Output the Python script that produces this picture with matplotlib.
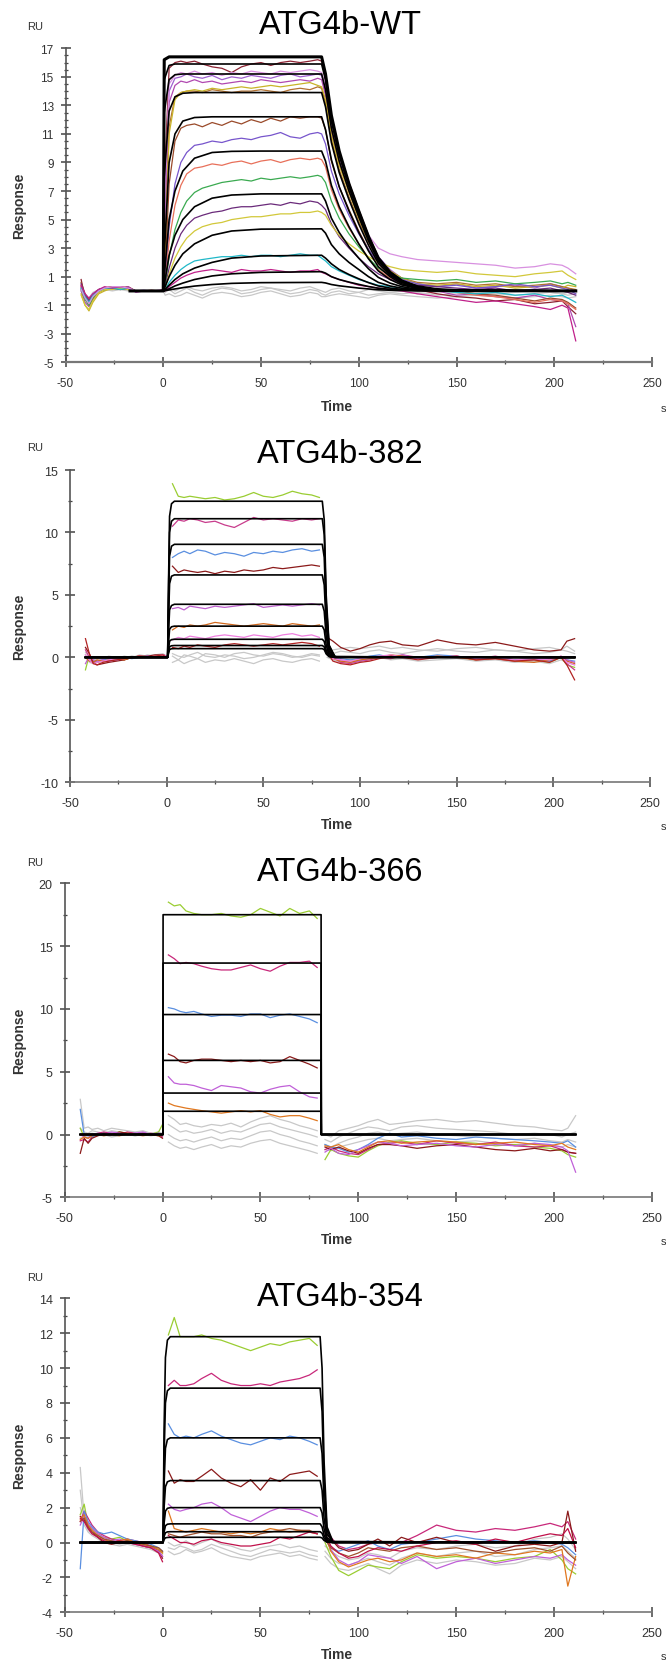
import numpy as np
import matplotlib.pyplot as plt
from matplotlib.ticker import MultipleLocator, FixedLocator

plt.rcParams['font.family'] = ['Liberation Sans', 'DejaVu Sans']
plt.rcParams['axes.unicode_minus'] = False

nan = np.nan

# common time grid (s) for the measured traces
T = [-42, -40, -38, -36, -33, -30, -26, -22, -18, -14, -10, -6, -2, 0,
     1, 3, 6, 9, 12, 16, 20, 25, 30, 35, 40, 45, 50, 55, 60, 65, 70, 75, 79, 81,
     83, 86, 90, 95, 100, 105, 110, 116, 122, 130, 140, 150, 160, 170, 180, 190, 198, 204, 207, 211]

# ---------------- ATG4b-WT ----------------
wt_fit_t = [-17, 0, 0.5, 3, 6, 10, 16, 25, 35, 50, 81, 83, 86, 90, 95, 100, 105, 110, 116, 122, 130, 140, 150, 211]
wt_fits = [
    [0, 0, 16.2, 16.4, 16.4, 16.4, 16.4, 16.4, 16.4, 16.4, 16.4, 15.2, 12.3, 9.8, 7.5, 5.6, 3.8, 2.3, 1.3, 0.7, 0.3, 0.1, 0.03, 0],
    [0, 0, 14.8, 15.8, 15.9, 15.9, 15.9, 15.9, 15.9, 15.9, 15.9, 14.8, 11.9, 9.5, 7.3, 5.4, 3.7, 2.2, 1.27, 0.68, 0.29, 0.1, 0.03, 0],
    [0, 0, 12.5, 14.8, 15.15, 15.2, 15.2, 15.2, 15.2, 15.2, 15.2, 14.1, 11.4, 9.1, 7.0, 5.2, 3.5, 2.1, 1.2, 0.65, 0.27, 0.09, 0.03, 0],
    [0, 0, 8.0, 12.6, 13.6, 13.85, 13.9, 13.9, 13.9, 13.9, 13.9, 12.9, 10.4, 8.3, 6.4, 4.7, 3.2, 1.95, 1.1, 0.6, 0.25, 0.08, 0.03, 0],
    [0, 0, 2.5, 9.0, 11.0, 11.9, 12.15, 12.2, 12.2, 12.2, 12.2, 11.3, 9.2, 7.3, 5.6, 4.1, 2.8, 1.7, 1.0, 0.5, 0.22, 0.07, 0.02, 0],
    [0, 0, 1.0, 5.0, 7.0, 8.4, 9.3, 9.7, 9.78, 9.8, 9.8, 9.1, 7.4, 5.9, 4.5, 3.3, 2.25, 1.4, 0.8, 0.42, 0.18, 0.06, 0.02, 0],
    [0, 0, 0.4, 2.5, 3.9, 5.0, 5.9, 6.5, 6.72, 6.8, 6.8, 6.3, 5.1, 4.1, 3.1, 2.3, 1.55, 0.95, 0.55, 0.3, 0.12, 0.04, 0.01, 0],
    [0, 0, 0.15, 1.0, 1.8, 2.6, 3.3, 3.9, 4.2, 4.33, 4.35, 4.05, 3.25, 2.6, 2.0, 1.5, 1.0, 0.6, 0.35, 0.19, 0.08, 0.03, 0.01, 0],
    [0, 0, 0.05, 0.4, 0.8, 1.2, 1.6, 2.0, 2.3, 2.45, 2.5, 2.3, 1.9, 1.5, 1.15, 0.85, 0.58, 0.35, 0.2, 0.11, 0.05, 0.02, 0, 0],
    [0, 0, 0.02, 0.15, 0.35, 0.55, 0.8, 1.05, 1.2, 1.3, 1.35, 1.25, 1.0, 0.8, 0.62, 0.46, 0.31, 0.19, 0.11, 0.06, 0.02, 0.01, 0, 0],
    [0, 0, 0.01, 0.07, 0.14, 0.23, 0.34, 0.45, 0.53, 0.58, 0.6, 0.56, 0.45, 0.36, 0.28, 0.2, 0.14, 0.08, 0.05, 0.03, 0.01, 0, 0, 0],
]
wt_colors = ['#8b2232', '#a060d0', '#b048b0', '#b07030', '#c8b428', '#9a4a2a', '#7755cc',
             '#e8705a', '#3aaa50', '#6a2a7a', '#d2c83a', '#20b8c8', '#c0208a', '#d890e0']
wt_traces = [
    [0.8, -0.5, -0.9, -0.5, 0.0, 0.2, 0.3, 0.2, 0.3, 0.0, 0.0, 0.05, 0.0, 0.1,
     9.0, 15.6, 16.0, 16.1, 16.0, 16.1, 15.9, 15.7, 15.6, 15.3, 15.7, 15.9, 16.0, 15.8, 16.0, 16.1, 16.0, 16.1, 16.2, 16.1,
     14.8, 12.0, 9.7, 7.6, 5.7, 3.9, 2.4, 1.3, 0.6, 0.1, -0.2, -0.4, -0.5, -0.7, -0.6, -0.9, -0.8, -0.7, -1.1, -1.6],
    [0.3, -0.3, -0.7, -0.2, 0.1, 0.2, 0.1, 0.3, 0.2, 0.0, 0.05, 0.0, 0.0, 0.0,
     6.0, 14.0, 14.9, 15.0, 15.2, 15.0, 14.9, 15.1, 14.8, 15.0, 14.9, 15.1, 15.0, 14.9, 15.1, 15.2, 15.0, 15.1, 15.2, 15.1,
     14.0, 11.4, 9.2, 7.2, 5.4, 3.7, 2.4, 1.5, 0.9, 0.5, 0.3, 0.5, 0.2, 0.3, 0.4, 0.2, 0.5, 0.3, 0.2, 0.0],
    [0.0, -0.8, -1.1, -0.6, -0.1, 0.1, 0.2, 0.1, 0.3, -0.1, 0.0, 0.0, 0.05, 0.1,
     5.0, 13.2, 14.4, 14.7, 14.6, 14.8, 14.6, 14.7, 14.5, 14.6, 14.7, 14.6, 14.8, 14.7, 14.6, 14.7, 14.8, 14.7, 14.9, 14.8,
     13.7, 11.0, 8.9, 7.0, 5.2, 3.6, 2.3, 1.4, 0.8, 0.3, 0.0, -0.3, -0.2, -0.4, -0.5, -0.3, -0.6, -0.7, -0.9, -2.5],
    [0.4, -0.4, -1.0, -0.6, -0.1, 0.1, 0.2, 0.2, 0.1, 0.0, 0.0, 0.0, 0.0, 0.0,
     3.0, 11.5, 13.6, 13.9, 14.0, 14.0, 13.9, 14.1, 14.0, 13.9, 14.0, 14.0, 14.1, 14.0, 13.9, 14.1, 14.2, 14.1, 14.3, 14.2,
     13.2, 10.6, 8.5, 6.6, 4.9, 3.4, 2.2, 1.4, 0.9, 0.6, 0.5, 0.6, 0.4, 0.5, 0.3, 0.4, 0.5, 0.3, 0.2, 0.1],
    [-0.2, -1.0, -1.4, -0.8, -0.2, 0.0, 0.2, 0.1, 0.2, 0.0, 0.0, 0.0, 0.0, 0.0,
     2.5, 11.0, 13.4, 13.9, 14.0, 14.1, 14.0, 14.2, 14.1, 14.2, 14.3, 14.2, 14.3, 14.4, 14.3, 14.4, 14.5, 14.6, 14.4, 14.3,
     13.4, 10.9, 8.8, 6.9, 5.1, 3.5, 2.3, 1.4, 0.9, 0.5, 0.4, 0.5, 0.3, 0.4, 0.2, 0.3, 0.4, 0.2, 0.4, 0.3],
    [0.6, -0.2, -0.6, -0.3, 0.1, 0.2, 0.3, 0.2, 0.1, 0.0, 0.0, 0.0, 0.0, 0.0,
     1.5, 7.5, 10.5, 11.4, 11.6, 11.7, 11.5, 11.8, 11.6, 11.9, 11.7, 12.0, 11.8, 12.1, 11.9, 12.2, 12.1, 12.2, 12.2, 12.1,
     11.3, 9.1, 7.3, 5.7, 4.2, 2.9, 1.9, 1.1, 0.6, 0.3, 0.1, 0.0, -0.2, -0.3, -0.5, -0.7, -0.5, -0.6, -0.8, -1.2],
    [0.2, -0.5, -0.8, -0.4, 0.0, 0.1, 0.2, 0.2, 0.2, 0.0, 0.0, 0.0, 0.0, 0.0,
     0.8, 4.5, 7.5, 9.0, 9.7, 10.2, 10.3, 10.5, 10.4, 10.6, 10.7, 10.6, 10.8, 10.9, 11.1, 10.8, 10.7, 11.0, 11.1, 11.0,
     10.3, 8.4, 6.8, 5.3, 4.0, 2.9, 2.0, 1.3, 0.8, 0.5, 0.3, 0.4, 0.2, 0.3, 0.5, 0.3, 0.4, 0.2, 0.1, -0.2],
    [0.3, -0.4, -0.9, -0.4, 0.0, 0.2, 0.2, 0.3, 0.2, 0.0, 0.0, 0.0, 0.0, 0.0,
     0.6, 3.5, 6.0, 7.4, 8.2, 8.6, 8.7, 8.9, 8.8, 9.0, 9.1, 8.9, 9.1, 9.2, 9.0, 9.2, 9.3, 9.2, 9.3, 9.2,
     8.7, 7.1, 5.7, 4.4, 3.3, 2.3, 1.5, 0.9, 0.5, 0.2, 0.0, -0.1, -0.3, -0.4, -0.6, -0.8, -0.6, -0.7, -0.9, -1.3],
    [0.1, -0.6, -1.0, -0.5, 0.0, 0.1, 0.2, 0.2, 0.1, 0.0, 0.0, 0.0, 0.0, 0.0,
     0.4, 2.4, 4.3, 5.5, 6.3, 6.9, 7.2, 7.4, 7.6, 7.7, 7.8, 7.7, 7.9, 7.8, 7.9, 8.0, 7.9, 8.0, 8.1, 8.0,
     7.6, 6.3, 5.1, 4.0, 3.1, 2.3, 1.6, 1.1, 0.9, 0.8, 0.7, 0.8, 0.6, 0.7, 0.5, 0.6, 0.7, 0.5, 0.6, 0.4],
    [0.5, -0.3, -0.7, -0.3, 0.1, 0.2, 0.2, 0.1, 0.2, 0.0, 0.0, 0.0, 0.0, 0.0,
     0.3, 1.6, 3.0, 4.0, 4.6, 5.1, 5.3, 5.5, 5.6, 5.8, 5.9, 5.9, 6.0, 6.1, 6.0, 6.2, 6.1, 6.3, 6.2, 6.0,
     5.7, 4.7, 3.8, 3.0, 2.3, 1.7, 1.2, 0.8, 0.6, 0.4, 0.3, 0.2, 0.1, 0.2, 0.0, 0.1, 0.2, 0.0, -0.1, -0.3],
    [-0.3, -1.0, -1.3, -0.7, -0.1, 0.1, 0.1, 0.2, 0.1, 0.0, 0.0, 0.0, 0.0, 0.0,
     0.2, 1.2, 2.3, 3.1, 3.7, 4.2, 4.5, 4.7, 4.8, 5.0, 5.1, 5.2, 5.2, 5.3, 5.4, 5.4, 5.5, 5.5, 5.6, 5.5,
     5.3, 4.6, 3.9, 3.3, 2.8, 2.4, 2.0, 1.7, 1.5, 1.4, 1.3, 1.4, 1.2, 1.1, 1.0, 1.2, 1.3, 1.4, 1.1, 0.8],
    [0.2, -0.4, -0.8, -0.3, 0.0, 0.2, 0.2, 0.1, 0.2, 0.0, 0.0, 0.0, 0.0, 0.0,
     0.1, 0.6, 1.1, 1.5, 1.8, 2.1, 2.2, 2.3, 2.4, 2.4, 2.5, 2.4, 2.5, 2.5, 2.4, 2.5, 2.6, 2.5, 2.5, 2.3,
     2.1, 1.7, 1.4, 1.1, 0.8, 0.6, 0.4, 0.3, 0.2, 0.1, 0.0, -0.1, -0.2, -0.1, -0.3, -0.2, -0.4, -0.3, -0.5, -0.8],
    [0.4, -0.2, -0.5, -0.2, 0.1, 0.3, 0.2, 0.3, 0.2, 0.0, 0.0, 0.0, 0.0, 0.1,
     0.0, 0.3, 0.6, 0.9, 1.1, 1.3, 1.4, 1.5, 1.4, 1.3, 1.5, 1.4, 1.4, 1.5, 1.4, 1.3, 1.4, 1.4, 1.5, 1.3,
     1.2, 1.0, 0.8, 0.6, 0.4, 0.3, 0.2, 0.1, 0.0, -0.2, -0.4, -0.6, -0.8, -0.7, -0.9, -1.1, -1.3, -1.0, -1.2, -3.5],
    [0.1, -0.5, -0.9, -0.4, 0.0, 0.2, 0.3, 0.3, 0.2, 0.0, 0.0, 0.0, 0.0, 0.0,
     7.0, 14.5, 15.1, 15.3, 15.2, 15.4, 15.2, 15.3, 15.1, 15.3, 15.2, 15.4, 15.3, 15.2, 15.4, 15.3, 15.4, 15.5, 15.4, 15.3,
     14.4, 11.6, 9.3, 7.2, 5.4, 3.9, 3.0, 2.6, 2.4, 2.2, 2.1, 2.0, 1.9, 1.8, 1.6, 1.7, 1.9, 1.8, 1.6, 1.2],
]
wt_gray = [
    [0.1, -0.4, -0.6, -0.2, 0.0, 0.1, 0.1, 0.1, 0.1, 0.0, 0.0, 0.0, 0.0, 0.0,
     -0.1, 0.1, -0.2, 0.0, 0.2, -0.1, -0.3, 0.0, 0.2, 0.1, -0.2, -0.1, 0.1, 0.2, 0.0, -0.2, -0.1, 0.1, 0.0, -0.2,
     -0.3, -0.1, 0.0, -0.2, -0.1, -0.3, -0.2, -0.1, -0.2, -0.1, -0.3, -0.2, -0.1, -0.2, -0.3, -0.2, -0.1, -0.2, -0.3, -0.2],
    [0.0, -0.5, -0.8, -0.3, 0.0, 0.1, 0.0, 0.1, 0.0, 0.0, 0.0, 0.0, 0.0, 0.0,
     -0.3, -0.2, -0.4, -0.3, -0.1, -0.3, -0.5, -0.2, -0.1, -0.2, -0.4, -0.3, -0.1, 0.0, -0.2, -0.4, -0.3, -0.1, -0.2, -0.4,
     -0.4, -0.3, -0.2, -0.3, -0.4, -0.5, -0.3, -0.2, -0.3, -0.4, -0.5, -0.4, -0.3, -0.4, -0.5, -0.4, -0.3, -0.4, -0.5, -0.4],
    [0.2, -0.3, -0.5, -0.1, 0.1, 0.2, 0.1, 0.2, 0.1, 0.0, 0.0, 0.0, 0.0, 0.0,
     0.1, 0.3, 0.0, 0.2, 0.3, 0.1, 0.0, 0.2, 0.3, 0.2, 0.0, 0.1, 0.3, 0.2, 0.1, 0.0, 0.2, 0.3, 0.1, 0.0,
     -0.1, 0.1, 0.2, 0.0, -0.1, 0.1, 0.0, -0.1, 0.0, -0.2, -0.1, 0.0, -0.1, -0.2, -0.1, 0.0, -0.1, -0.2, -0.1, 0.0],
]

# ---------------- ATG4b-382 ----------------
p382_fit_t = [-42, 0.5, 1.0, 1.5, 2.5, 4, 80.5, 81.5, 82.5, 84, 87, 211]
p382_fits = [
    [0, 0, 6.3, 11.3, 12.3, 12.5, 12.5, 11.0, 5.0, 1.0, 0.06, 0],
    [0, 0, 5.6, 10.0, 10.9, 11.1, 11.1, 9.8, 4.4, 0.9, 0.05, 0],
    [0, 0, 4.5, 8.1, 8.9, 9.05, 9.05, 8.0, 3.6, 0.7, 0.05, 0],
    [0, 0, 3.3, 5.9, 6.5, 6.6, 6.6, 5.8, 2.6, 0.5, 0.03, 0],
    [0, 0, 2.1, 3.8, 4.15, 4.25, 4.25, 3.7, 1.7, 0.34, 0.02, 0],
    [0, 0, 1.25, 2.25, 2.45, 2.5, 2.5, 2.2, 1.0, 0.2, 0.01, 0],
    [0, 0, 0.7, 1.3, 1.42, 1.45, 1.45, 1.28, 0.58, 0.12, 0.01, 0],
    [0, 0, 0.48, 0.85, 0.93, 0.95, 0.95, 0.84, 0.38, 0.08, 0, 0],
    [0, 0, 0.35, 0.63, 0.69, 0.7, 0.7, 0.62, 0.28, 0.06, 0, 0],
]
p382_colors = ['#9acd32', '#c83c8c', '#5a8fe0', '#8b1a1a', '#c060d0', '#d2691e', '#f080e0', '#b22222']
p382_traces = [
    [-1.0, 0.2, -0.3, -0.4, -0.3, -0.2, -0.1, -0.2, 0.0, 0.1, 0.0, 0.1, 0.2, 0.1,
     nan, 13.9, 12.9, 12.8, 12.9, 12.8, 12.7, 12.8, 12.6, 12.7, 12.9, 13.2, 12.9, 12.8, 13.0, 13.3, 13.1, 13.0, 12.8, nan,
     1.2, 0.3, -0.3, -0.2, -0.3, -0.1, 0.0, -0.1, 0.1, -0.1, 0.0, 0.1, -0.2, 0.0, -0.3, -0.2, -0.4, 0.0, -0.6, -0.8],
    [0.6, 0.0, -0.3, -0.4, -0.2, -0.3, -0.1, -0.2, 0.0, 0.1, 0.0, 0.1, 0.2, 0.1,
     nan, 10.5, 11.0, 10.9, 11.1, 11.0, 10.8, 10.9, 10.6, 10.4, 10.8, 11.2, 11.0, 11.1, 11.0, 10.9, 11.1, 11.0, 11.1, nan,
     1.5, 0.0, -0.4, -0.5, -0.3, -0.2, 0.0, -0.1, 0.2, 0.0, 0.1, 0.0, -0.1, 0.1, -0.2, -0.1, -0.3, 0.1, -0.5, -1.0],
    [0.0, -0.2, -0.4, -0.3, -0.2, -0.1, -0.2, 0.0, -0.1, 0.0, 0.1, 0.0, 0.1, 0.1,
     nan, 8.0, 8.3, 8.5, 8.3, 8.6, 8.5, 8.2, 8.4, 8.3, 8.1, 8.4, 8.3, 8.5, 8.4, 8.6, 8.7, 8.5, 8.6, nan,
     1.0, 0.2, -0.1, -0.2, -0.1, 0.1, 0.2, 0.0, 0.1, 0.0, 0.2, 0.1, -0.1, 0.0, -0.2, -0.1, -0.3, 0.0, -0.2, -0.3],
    [0.8, 0.3, -0.4, -0.6, -0.5, -0.4, -0.3, -0.2, 0.0, 0.1, 0.1, 0.2, 0.2, 0.1,
     nan, 7.3, 6.8, 7.0, 6.9, 6.8, 6.9, 6.7, 6.9, 6.8, 7.0, 6.9, 7.0, 7.2, 7.1, 7.2, 7.3, 7.4, 7.3, nan,
     1.6, 1.3, 0.8, 0.5, 0.7, 1.0, 1.2, 1.3, 1.0, 0.9, 1.4, 1.1, 1.0, 1.2, 0.9, 0.6, 0.5, 0.6, 1.3, 1.5],
    [-0.5, 0.1, -0.2, -0.3, -0.2, -0.3, -0.2, -0.1, 0.0, 0.0, 0.1, 0.0, 0.1, 0.1,
     nan, 3.9, 4.0, 3.8, 4.1, 4.0, 3.9, 4.1, 4.0, 4.1, 4.2, 4.3, 4.0, 4.1, 4.2, 4.1, 4.2, 4.3, 4.2, nan,
     0.8, 0.0, -0.2, -0.4, -0.3, -0.1, 0.0, 0.1, 0.2, -0.1, 0.0, 0.1, -0.2, -0.1, -0.3, -0.2, -0.1, 0.0, -0.2, -0.4],
    [0.0, -0.3, -0.4, -0.2, -0.3, -0.2, -0.1, -0.2, 0.0, 0.1, 0.0, 0.1, 0.1, 0.0,
     nan, 2.2, 2.5, 2.4, 2.6, 2.5, 2.6, 2.8, 2.7, 2.6, 2.5, 2.6, 2.7, 2.6, 2.5, 2.7, 2.6, 2.5, 2.6, nan,
     0.6, -0.1, -0.3, -0.4, -0.2, -0.1, 0.0, 0.2, 0.1, -0.1, 0.1, 0.0, -0.2, -0.1, -0.3, -0.4, -0.2, 0.0, -0.3, -0.5],
    [0.2, -0.2, -0.5, -0.4, -0.3, -0.2, -0.1, -0.1, 0.0, 0.1, 0.0, 0.1, 0.2, 0.1,
     nan, 1.4, 1.6, 1.5, 1.7, 1.6, 1.5, 1.7, 1.8, 1.7, 1.6, 1.8, 1.7, 1.6, 1.8, 1.9, 1.7, 1.8, 1.6, nan,
     0.4, -0.1, -0.2, -0.3, -0.1, 0.0, 0.1, 0.2, 0.0, -0.1, 0.0, 0.1, -0.1, 0.0, -0.2, -0.1, -0.2, 0.1, -0.4, -0.6],
    [1.5, 0.3, -0.5, -0.6, -0.4, -0.3, -0.2, -0.1, 0.0, 0.1, 0.0, 0.1, 0.2, 0.0,
     nan, 0.8, 0.7, 0.9, 0.8, 1.0, 0.9, 0.8, 1.0, 1.1, 1.0, 0.9, 1.0, 1.1, 1.0, 1.1, 1.2, 1.1, 0.9, nan,
     0.4, -0.3, -0.5, -0.6, -0.4, -0.3, -0.1, 0.1, 0.0, -0.2, 0.0, 0.1, -0.2, -0.1, -0.3, -0.2, -0.4, 0.0, -0.6, -1.8],
]
p382_gray = [
    [0.0, -0.2, -0.3, -0.1, -0.2, 0.0, -0.1, 0.1, 0.0, 0.2, 0.1, 0.2, 0.3, 0.1,
     nan, 0.1, -0.2, 0.2, 0.1, -0.1, 0.3, 0.2, 0.0, 0.3, 0.4, 0.2, 0.1, 0.3, 0.2, 0.0, 0.1, 0.3, 0.2, nan,
     0.3, 0.6, 0.7, 0.8, 0.7, 0.8, 0.9, 0.7, 0.8, 0.6, 0.5, 0.7, 0.8, 0.6, 0.5, 0.7, 0.8, 0.6, 0.9, 0.5],
    [0.2, -0.4, -0.5, -0.3, -0.2, -0.1, 0.0, -0.1, 0.1, 0.0, 0.1, 0.0, 0.1, 0.0,
     nan, -0.4, -0.2, -0.5, -0.3, -0.1, -0.4, -0.2, -0.3, -0.1, -0.3, -0.5, -0.2, -0.1, -0.3, -0.4, -0.2, -0.1, -0.3, nan,
     0.0, -0.2, -0.4, -0.3, -0.2, -0.1, 0.0, -0.2, -0.1, -0.3, -0.2, -0.1, -0.3, -0.2, -0.4, -0.3, -0.5, -0.2, -0.4, -0.6],
    [0.4, 0.0, -0.2, 0.0, -0.1, 0.1, 0.0, 0.0, 0.1, 0.0, 0.2, 0.1, 0.2, 0.0,
     nan, 0.3, 0.1, 0.0, 0.2, 0.4, 0.1, 0.0, 0.2, 0.1, -0.1, 0.0, 0.2, 0.4, 0.3, 0.1, 0.0, 0.2, 0.1, nan,
     0.2, 0.3, 0.5, 0.4, 0.3, 0.5, 0.6, 0.4, 0.3, 0.5, 0.7, 0.5, 0.4, 0.6, 0.5, 0.3, 0.4, 0.6, 0.5, 0.3],
]

# ---------------- ATG4b-366 ----------------
p366_fit_t = [-42, 0.2, 0.3, 81, 81.1, 211]
p366_fits = [
    [0, 0, 17.5, 17.5, 0, 0],
    [0, 0, 13.65, 13.65, 0, 0],
    [0, 0, 9.55, 9.55, 0, 0],
    [0, 0, 5.9, 5.9, 0, 0],
    [0, 0, 3.3, 3.3, 0, 0],
    [0, 0, 1.85, 1.85, 0, 0],
]
p366_colors = ['#9acd32', '#c8287a', '#5a8fe0', '#8b1a1a', '#c060d8', '#e07820']
p366_traces = [
    [0.5, -0.2, -0.3, -0.1, 0.0, 0.1, 0.0, 0.2, 0.1, 0.0, 0.1, 0.0, 0.2, 0.8,
     nan, 18.5, 18.2, 18.3, 17.8, 17.6, 17.5, 17.5, 17.6, 17.4, 17.3, 17.5, 18.0, 17.7, 17.4, 18.0, 17.6, 17.8, 17.2, nan,
     -2.0, -1.2, -1.5, -1.7, -1.8, -1.3, -0.9, -0.6, -0.5, -0.7, -0.8, -0.6, -0.7, -0.9, -0.8, -1.0, -1.1, -1.3, -1.6, -1.8],
    [-0.5, -0.4, -0.6, -0.2, 0.1, 0.2, 0.1, 0.0, 0.2, 0.1, 0.0, 0.1, 0.0, -0.2,
     nan, 14.3, 14.0, 13.6, 13.7, 13.6, 13.4, 13.2, 13.1, 13.1, 13.3, 13.5, 13.2, 13.0, 13.4, 13.7, 13.7, 13.8, 13.3, nan,
     -1.2, -1.0, -1.3, -1.5, -1.6, -1.2, -0.8, -0.7, -0.6, -0.8, -0.5, -0.7, -0.8, -0.6, -0.9, -1.0, -0.9, -1.2, -1.4, -1.5],
    [2.0, 0.0, -0.1, -0.2, 0.0, 0.1, 0.0, 0.1, 0.0, 0.1, 0.0, 0.0, 0.1, 0.0,
     nan, 10.1, 10.0, 9.8, 9.7, 9.8, 9.6, 9.4, 9.5, 9.5, 9.4, 9.6, 9.6, 9.3, 9.5, 9.6, 9.4, 9.2, 8.9, nan,
     -0.8, -1.0, -1.1, -1.4, -1.2, -0.8, -0.3, 0.1, -0.2, -0.1, -0.3, -0.4, -0.2, -0.3, -0.4, -0.5, -0.6, -0.7, -0.5, -1.0],
    [-1.5, -0.3, -0.7, -0.3, -0.1, 0.1, 0.0, 0.2, 0.1, 0.0, 0.1, 0.0, -0.1, -0.3,
     nan, 6.4, 6.2, 5.8, 5.7, 5.9, 6.0, 6.0, 5.9, 5.8, 5.9, 5.8, 5.9, 5.7, 5.8, 6.2, 5.9, 5.6, 5.3, nan,
     -1.0, -1.2, -1.0, -1.3, -1.5, -1.1, -0.8, -0.8, -0.9, -1.1, -0.9, -0.8, -1.0, -1.2, -1.3, -1.1, -1.3, -1.2, -1.4, -1.5],
    [0.0, -0.2, -0.3, 0.0, 0.1, 0.0, 0.2, 0.1, 0.0, 0.1, 0.2, 0.0, 0.1, 0.0,
     nan, 4.6, 4.1, 4.0, 4.0, 3.9, 3.7, 3.5, 3.9, 3.8, 3.7, 3.4, 3.3, 3.6, 3.8, 3.9, 3.4, 3.0, 2.9, nan,
     -1.4, -1.1, -1.5, -1.6, -1.2, -0.9, -0.6, -0.7, -0.9, -0.8, -0.7, -0.9, -1.0, -0.8, -0.9, -0.7, -0.8, -1.0, -1.3, -3.0],
    [-0.4, -0.2, -0.3, -0.1, 0.0, -0.1, 0.0, -0.1, 0.1, 0.0, -0.1, 0.0, -0.1, 0.0,
     nan, 2.5, 2.3, 2.2, 2.1, 2.0, 1.9, 1.8, 1.7, 1.8, 1.9, 1.8, 1.9, 1.6, 1.4, 1.5, 1.5, 1.3, 1.1, nan,
     -0.9, -1.0, -0.8, -1.2, -1.4, -1.0, -0.6, -0.5, -0.7, -0.6, -0.5, -0.6, -0.8, -0.7, -0.6, -0.8, -0.9, -0.7, -1.0, -1.2],
]
p366_gray = [
    [2.8, 0.5, 0.6, 0.4, 0.5, 0.3, 0.5, 0.4, 0.3, 0.2, 0.3, 0.1, 0.2, 0.1,
     nan, 1.5, 1.2, 0.8, 0.9, 0.7, 0.6, 0.8, 0.7, 0.9, 0.6, 1.0, 1.3, 1.5, 1.2, 1.0, 0.7, 0.5, 0.3, nan,
     0.0, -0.2, 0.3, 0.5, 0.7, 1.0, 1.2, 0.8, 0.9, 1.1, 1.2, 1.0, 1.1, 0.9, 0.7, 0.6, 0.4, 0.3, 0.5, 1.5],
    [0.5, 0.2, 0.1, 0.3, 0.2, 0.1, 0.3, 0.2, 0.1, 0.0, 0.2, 0.0, 0.1, 0.0,
     nan, 0.8, 0.5, 0.2, 0.3, 0.1, 0.2, 0.4, 0.1, 0.3, 0.2, 0.5, 0.8, 0.9, 0.6, 0.4, 0.2, 0.0, -0.2, nan,
     -0.4, -0.6, -0.2, 0.1, 0.4, 0.6, 0.5, 0.3, 0.6, 0.7, 0.5, 0.4, 0.3, 0.2, 0.0, 0.1, 0.0, -0.2, 0.0, 0.2],
    [0.0, -0.1, 0.0, 0.1, 0.0, -0.1, 0.0, 0.1, 0.0, -0.1, 0.0, 0.0, -0.1, 0.0,
     nan, 0.0, -0.3, -0.5, -0.4, -0.6, -0.4, -0.2, -0.5, -0.3, -0.4, -0.1, 0.2, 0.3, 0.0, -0.2, -0.5, -0.7, -0.9, nan,
     -0.8, -1.0, -0.7, -0.4, -0.2, 0.1, 0.2, 0.0, 0.1, 0.2, 0.0, -0.1, -0.2, -0.3, -0.4, -0.3, -0.5, -0.6, -0.4, -0.6],
    [-0.3, -0.2, -0.1, 0.0, -0.1, 0.0, -0.2, -0.1, 0.0, -0.1, 0.0, -0.1, 0.0, -0.1,
     nan, -0.6, -0.9, -1.1, -1.0, -1.2, -1.0, -0.8, -1.1, -0.9, -1.0, -0.7, -0.5, -0.4, -0.7, -0.9, -1.1, -1.3, -1.5, nan,
     -1.2, -1.3, -1.0, -0.8, -0.6, -0.4, -0.3, -0.5, -0.4, -0.3, -0.5, -0.6, -0.5, -0.7, -0.8, -0.7, -0.9, -1.0, -0.8, -1.0],
]

# ---------------- ATG4b-354 ----------------
p354_fit_t = [-42, 0.3, 0.8, 1.5, 2.5, 4, 80.5, 81.5, 82.5, 84, 87, 211]
p354_fits = [
    [0, 0, 6.5, 10.6, 11.6, 11.8, 11.8, 10.0, 4.7, 0.9, 0.06, 0],
    [0, 0, 4.9, 8.0, 8.7, 8.85, 8.85, 7.5, 3.5, 0.7, 0.04, 0],
    [0, 0, 3.3, 5.4, 5.9, 6.0, 6.0, 5.1, 2.4, 0.5, 0.03, 0],
    [0, 0, 2.0, 3.2, 3.48, 3.55, 3.55, 3.0, 1.4, 0.28, 0.02, 0],
    [0, 0, 1.1, 1.8, 1.96, 2.0, 2.0, 1.7, 0.8, 0.16, 0.01, 0],
    [0, 0, 0.6, 0.96, 1.05, 1.07, 1.07, 0.9, 0.43, 0.09, 0, 0],
    [0, 0, 0.34, 0.56, 0.61, 0.62, 0.62, 0.53, 0.25, 0.05, 0, 0],
    [0, 0, 0.17, 0.27, 0.29, 0.3, 0.3, 0.26, 0.12, 0.02, 0, 0],
]
p354_colors = ['#9acd32', '#c8287a', '#5a8fe0', '#8b1a1a', '#c060d8', '#e07820', '#a0522d', '#c0104a']
p354_traces = [
    [1.6, 2.2, 1.0, 0.8, 0.5, 0.3, 0.2, 0.3, 0.1, 0.0, -0.1, -0.2, -0.4, -0.6,
     nan, 11.9, 12.9, 11.8, 11.8, 11.8, 11.9, 11.7, 11.6, 11.4, 11.2, 11.0, 11.2, 11.4, 11.3, 11.5, 11.6, 11.7, 11.3, nan,
     0.0, -0.8, -1.6, -1.9, -1.6, -1.3, -1.4, -1.5, -1.1, -0.7, -0.9, -0.8, -0.9, -1.1, -0.9, -0.8, -0.4, -1.0, -1.5, -1.8],
    [1.2, 1.8, 1.4, 1.0, 0.6, 0.4, 0.2, 0.1, 0.2, 0.1, 0.0, -0.2, -0.5, -0.8,
     nan, 9.0, 9.3, 9.0, 9.0, 9.1, 9.4, 9.7, 9.3, 9.1, 9.0, 9.0, 9.1, 9.0, 9.2, 9.3, 9.4, 9.6, 9.9, nan,
     0.9, 0.3, -0.2, -0.4, -0.3, -0.1, 0.0, 0.0, 0.0, 0.4, 1.0, 0.7, 0.6, 0.8, 0.7, 0.9, 1.1, 0.9, 1.2, 0.2],
    [-1.5, 1.8, 1.2, 0.9, 0.6, 0.5, 0.6, 0.4, 0.2, 0.1, 0.0, -0.1, -0.3, -0.5,
     nan, 6.8, 6.2, 6.0, 6.1, 6.0, 6.2, 6.4, 6.1, 5.9, 5.7, 5.6, 5.8, 6.0, 5.9, 6.1, 6.0, 5.8, 5.6, nan,
     0.2, -0.3, -0.5, -0.3, -0.1, 0.1, -0.2, -0.4, -0.1, 0.0, 0.2, 0.4, 0.2, 0.1, 0.0, 0.1, 0.0, -0.1, -0.3, -0.7],
    [1.5, 1.3, 0.9, 0.6, 0.3, 0.0, -0.1, 0.0, 0.1, 0.0, -0.2, -0.3, -0.5, -0.9,
     nan, 4.1, 3.4, 3.6, 3.5, 3.5, 3.8, 4.2, 3.7, 3.4, 3.2, 3.6, 3.0, 3.7, 3.5, 3.9, 4.0, 4.1, 3.8, nan,
     0.6, 0.2, -0.3, -0.5, -0.4, -0.1, 0.2, -0.2, 0.3, 0.0, 0.3, 0.0, -0.1, -0.5, -0.2, -0.1, -0.2, 0.0, 1.8, -0.5],
    [1.0, 1.5, 1.1, 0.8, 0.5, 0.3, 0.1, 0.2, 0.0, -0.1, -0.2, -0.3, -0.5, -0.8,
     nan, 2.2, 1.9, 1.8, 1.9, 2.0, 2.2, 2.3, 2.0, 1.6, 1.4, 1.2, 1.5, 1.8, 2.0, 1.9, 1.9, 1.7, 1.5, nan,
     0.3, -0.4, -1.0, -1.3, -1.1, -0.7, -0.8, -0.9, -1.2, -0.8, -1.5, -1.1, -0.9, -1.2, -1.0, -0.8, -0.9, -0.7, -1.0, -1.3],
    [1.3, 1.6, 1.0, 0.7, 0.4, 0.2, 0.0, 0.1, 0.2, 0.0, -0.1, -0.2, -0.4, -0.6,
     nan, 1.8, 0.8, 0.7, 0.6, 0.7, 0.8, 0.7, 0.6, 0.5, 0.6, 0.5, 0.6, 0.8, 0.7, 0.6, 0.7, 0.6, 0.5, nan,
     0.4, -0.5, -1.1, -1.4, -1.2, -1.0, -0.9, -1.1, -1.0, -0.6, -0.8, -0.7, -0.9, -0.6, -0.7, -0.5, -0.6, -0.4, -2.5, -0.8],
    [1.2, 1.4, 0.9, 0.6, 0.4, 0.2, 0.1, 0.0, 0.1, 0.0, -0.1, -0.2, -0.3, -0.5,
     nan, 0.5, 0.4, 0.3, 0.4, 0.5, 0.6, 0.5, 0.5, 0.4, 0.4, 0.3, 0.5, 0.6, 0.7, 0.8, 0.7, 0.7, 0.5, nan,
     0.2, -0.3, -0.6, -0.8, -0.6, -0.3, -0.4, -0.5, -0.3, -0.2, -0.4, -0.3, -0.5, -0.6, -0.4, -0.3, -0.5, -0.2, -0.6, -1.0],
    [1.4, 1.2, 0.8, 0.5, 0.3, 0.1, 0.0, 0.1, 0.0, -0.1, -0.2, -0.3, -0.6, -1.1,
     nan, 0.4, 0.2, 0.0, 0.0, -0.1, 0.1, 0.2, 0.0, -0.1, -0.2, -0.2, -0.1, 0.0, 0.3, 0.2, 0.4, 0.6, 0.5, nan,
     0.5, -0.2, -0.6, -0.9, -0.8, -0.5, -0.3, -0.4, -0.5, -0.2, 0.0, 0.1, -0.1, 0.2, 0.0, 0.3, 0.5, 0.4, 0.8, -0.3],
]
p354_gray = [
    [4.3, 1.4, 0.8, 0.5, 0.3, 0.1, 0.0, -0.1, 0.0, -0.1, -0.2, -0.3, -0.5, -0.6,
     nan, 0.0, -0.2, -0.1, 0.1, -0.2, 0.0, 0.2, -0.1, -0.2, -0.4, -0.5, -0.3, -0.2, -0.1, -0.3, -0.2, -0.4, -0.5, nan,
     -0.2, -0.5, -0.8, -1.0, -0.9, -0.6, -0.7, -0.9, -0.5, -0.3, -0.4, -0.2, -0.1, -0.3, -0.2, 0.2, 0.3, 0.5, 0.2, -0.4],
    [3.0, 1.0, 0.6, 0.4, 0.2, 0.0, -0.1, -0.2, -0.1, -0.2, -0.3, -0.4, -0.6, -0.7,
     nan, -0.5, -0.7, -0.6, -0.4, -0.6, -0.5, -0.3, -0.6, -0.8, -0.9, -1.0, -0.8, -0.7, -0.6, -0.8, -0.7, -0.9, -1.0, nan,
     -0.8, -1.2, -1.5, -1.6, -1.4, -1.2, -1.5, -1.8, -1.3, -1.0, -1.2, -1.0, -1.1, -1.3, -1.2, -0.9, -1.0, -0.8, -1.1, -1.5],
    [2.0, 1.2, 0.7, 0.5, 0.3, 0.1, 0.1, 0.0, 0.0, -0.1, -0.2, -0.3, -0.4, -0.5,
     nan, -0.3, -0.4, -0.2, -0.3, -0.5, -0.4, -0.1, -0.3, -0.5, -0.7, -0.8, -0.6, -0.4, -0.5, -0.6, -0.5, -0.7, -0.8, nan,
     -0.5, -0.9, -1.2, -1.3, -1.1, -0.9, -1.1, -1.3, -0.9, -0.6, -0.8, -0.6, -0.5, -0.8, -0.7, -0.4, -0.3, -0.2, -0.5, -0.9],
]

titles = ['ATG4b-WT', 'ATG4b-382', 'ATG4b-366', 'ATG4b-354']

# ---------------- layout (pixel coordinates of the 666x1665 image) ----------------
W, H = 666, 1665
fig = plt.figure(figsize=(W / 100, H / 100), dpi=100)


def px(x, y):
    return x / W, 1 - y / H


panels = [
    # x0, x1, ytop, ybot, ylim, yticks, yminor, title_y, ru_y, time_y, ticksize
    (65.5, 652, 49.3, 363.3, (-5, 17), np.arange(-5, 18, 2), 0.5, 25, 27, 407, 8.5,
     wt_fit_t, wt_fits, wt_traces, wt_colors, wt_gray),
    (70, 650, 471, 783.3, (-10, 15), np.arange(-10, 16, 5), 2.5, 455, 448, 825, 9,
     p382_fit_t, p382_fits, p382_traces, p382_colors, p382_gray),
    (64.6, 652, 884.3, 1198.3, (-5, 20), np.arange(-5, 21, 5), 2.5, 873, 863, 1240, 9,
     p366_fit_t, p366_fits, p366_traces, p366_colors, p366_gray),
    (64.6, 652, 1299.3, 1613.3, (-4, 14), np.arange(-4, 15, 2), 1, 1298, 1278, 1655, 9,
     p354_fit_t, p354_fits, p354_traces, p354_colors, p354_gray),
]

for i, (x0, x1, yt, yb, ylim, yt_list, ymin, title_y, ru_y, time_y, tsz,
        fit_t, fits, traces, colors, grays) in enumerate(panels):
    ax = fig.add_axes([x0 / W, 1 - yb / H, (x1 - x0) / W, (yb - yt) / H])
    ax.set_facecolor('none')

    for g in grays:
        ax.plot(T, g, color='#c8c8c8', lw=0.9, zorder=1)
    for tr, c in zip(traces, colors):
        ax.plot(T, tr, color=c, lw=0.9, zorder=2)
    for j, f in enumerate(fits):
        lw = 2.2 if (i == 0 and j == 0) else 1.2
        ax.plot(fit_t, f, color='black', lw=lw, zorder=3)

    ax.set_xlim(-50, 250)
    ax.set_ylim(*ylim)
    ax.xaxis.set_major_locator(MultipleLocator(50))
    ax.xaxis.set_minor_locator(MultipleLocator(25))
    ax.yaxis.set_major_locator(FixedLocator(yt_list))
    ax.yaxis.set_minor_locator(MultipleLocator(ymin))

    for s in ['top', 'right']:
        ax.spines[s].set_visible(False)
    ax.spines['left'].set_color('#555555')
    ax.spines['bottom'].set_color('#777777')
    ax.spines['left'].set_linewidth(1.2)
    ax.spines['bottom'].set_linewidth(1.6 if i == 0 else 1.2)

    ax.tick_params(which='major', direction='inout', length=7, width=1.1, color='#444444',
                   labelsize=tsz, labelcolor='#333333')
    ax.tick_params(which='minor', direction='inout', length=3.5, width=0.9, color='#444444')
    ax.tick_params(axis='x', which='major', pad=7)
    ax.tick_params(axis='y', which='major', pad=5)

    yc = (yt + yb) / 2
    fig.text(*px(19, yc), 'Response', rotation=90, ha='center', va='center',
             fontsize=10, fontweight='bold', color='#333333')
    fig.text(*px(337, time_y), 'Time', ha='center', va='center',
             fontsize=10, fontweight='bold', color='#333333')
    fig.text(*px(663, time_y + 2), 's', ha='center', va='center', fontsize=8, color='#333333')
    fig.text(*px(35, ru_y), 'RU', ha='center', va='center', fontsize=8, color='#333333')
    fig.text(*px(340, title_y), titles[i], ha='center', va='center', fontsize=23.5, color='black')

fig.savefig('out.png', dpi=100, facecolor='white')
